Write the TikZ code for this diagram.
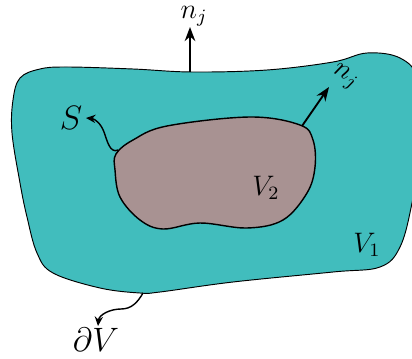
\documentclass[tikz,border=0pt]{standalone}
\usetikzlibrary{arrows.meta}
\definecolor{tealfill}{RGB}{65,189,189}
\definecolor{brownfill}{RGB}{168,146,146}
\begin{document}
\begin{tikzpicture}[x=0.4255pt,y=-0.4255pt,
  outerblob/.style={fill=tealfill,draw=black,line width=0.4pt},
  innerblob/.style={fill=brownfill,draw=black,line width=0.6pt},
  normalarrow/.style={-{Stealth[length=6pt,width=4.5pt]},line width=0.8pt},
  wavyarrow/.style={-{Stealth[length=4pt,width=3.5pt]},line width=0.6pt},
  lbl/.style={inner sep=0.5pt}]
\useasboundingbox (0,0) rectangle (412,358);
\clip (0,0) rectangle (412,358);
\draw[outerblob] plot[smooth cycle,tension=0.6] coordinates {
  (20,78) (40,69) (67,67) (133,69) (192,72) (267,70) (333,62) (367,53) (400,58) (418,80)
  (422,140) (412,203) (400,247) (380,267) (333,272) (233,282) (160,292) (140,293)
  (100,288) (53,273) (37,253) (27,217) (20,183) (12,133) (13,100)};
\draw[innerblob] plot[smooth cycle,tension=0.6] coordinates {
  (116,154) (133,140) (167,126) (250,117) (300,125) (313,140) (315,167) (307,193) (283,220)
  (247,228) (200,223) (163,229) (140,220) (120,197) (115,170)};
\coordinate (topstart) at (190,72);
\node[lbl,font=\large] (nj1) at (194,16) {$n_j$};
\draw[normalarrow] (topstart) -- (190,27) coordinate (toptip);
\coordinate (rstart) at (302,126);
\coordinate (rtip) at (329,87);
\draw[normalarrow] (rstart) -- (rtip);
\node[lbl,font=\large,rotate=-30] (nj2) at (345,77) {$n_j$};
\coordinate (sstart) at (118,150);
\node[lbl,font=\Large] (S) at (71,118) {$S$};
\draw[wavyarrow] (sstart) to[out=205,in=-70] (104,132) to[out=110,in=-5] (86,118);
\coordinate (dvstart) at (143,293);
\node[lbl,font=\Large] (dV) at (96,340) {$\partial V$};
\draw[wavyarrow] (dvstart) to[out=240,in=0] (121,309) to[out=180,in=85] (98,326);
\node[lbl,font=\large] (V2) at (266,188) {$V_2$};
\node[lbl,font=\large] (V1) at (367,245) {$V_1$};
\end{tikzpicture}
\end{document}
